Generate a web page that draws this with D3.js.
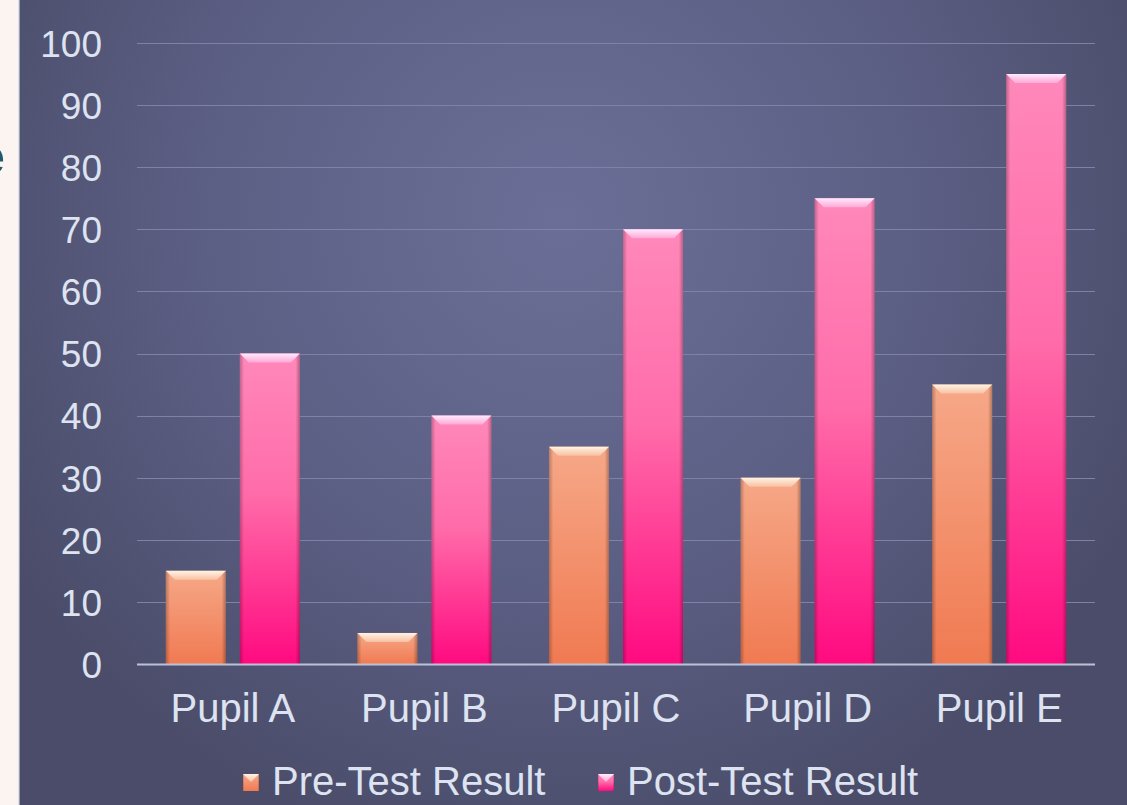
<!DOCTYPE html>
<html><head><meta charset="utf-8">
<script src="https://cdn.jsdelivr.net/npm/d3@7"></script>
<style>html,body{margin:0;padding:0;overflow:hidden;background:#fcf4f1}</style>
</head><body>
<script>
const pupils = ["Pupil A","Pupil B","Pupil C","Pupil D","Pupil E"];
const seriesNames = ["Pre-Test Result","Post-Test Result"];
const preTest = [15,5,35,30,45];
const postTest = [50,40,70,75,95];
const yTicks = [0,10,20,30,40,50,60,70,80,90,100];

const W=1127,H=805;
const svg=d3.select("body").append("svg").attr("width",W).attr("height",H);
const defs=svg.append("defs");

const bg=defs.append("radialGradient").attr("id","bg").attr("gradientUnits","userSpaceOnUse")
  .attr("cx",560).attr("cy",220).attr("r",650);
bg.append("stop").attr("offset","0").attr("stop-color","#6b6f97");
bg.append("stop").attr("offset","0.55").attr("stop-color","#5c5f84");
bg.append("stop").attr("offset","1").attr("stop-color","#4a4c69");

function vgrad(id,stops){const g=defs.append("linearGradient").attr("id",id).attr("x1",0).attr("y1",0).attr("x2",0).attr("y2",1);
  stops.forEach(s=>g.append("stop").attr("offset",s[0]).attr("stop-color",s[1]));}
function hgrad(id,stops){const g=defs.append("linearGradient").attr("id",id).attr("x1",0).attr("y1",0).attr("x2",1).attr("y2",0);
  stops.forEach(s=>g.append("stop").attr("offset",s[0]).attr("stop-color",s[1]).attr("stop-opacity",s[2]));}
vgrad("preFill",[[0,"#f6a888"],[1,"#f07a52"]]);
vgrad("postFill",[[0,"#ff88ba"],[0.45,"#ff6ca9"],[1,"#ff0a80"]]);
vgrad("preTop",[[0,"#fff4e4"],[1,"#f8c0a2"]]);
vgrad("postTop",[[0,"#ffeaff"],[1,"#ffa8d6"]]);
hgrad("edge",[[0,"#000",0.25],[0.07,"#000",0],[0.93,"#000",0],[1,"#000",0.28]]);

// left page strip
svg.append("rect").attr("x",0).attr("y",0).attr("width",19).attr("height",H).attr("fill","#fcf4f1");
svg.append("clipPath").attr("id","strip").append("rect").attr("x",0).attr("y",0).attr("width",18).attr("height",H);
svg.append("text").attr("clip-path","url(#strip)").attr("x",-24).attr("y",174)
  .attr("font-family","'Liberation Sans', Arial, sans-serif").attr("font-weight","bold").attr("font-size",52)
  .attr("fill","#1f5b6c").text("e");
svg.append("rect").attr("x",18).attr("y",0).attr("width",1.5).attr("height",H).attr("fill","#dde3ea");

// chart background
svg.append("rect").attr("x",19.5).attr("y",0).attr("width",W-19.5).attr("height",H).attr("fill","url(#bg)");

const font="'Liberation Sans', Arial, sans-serif";
const y=d3.scaleLinear().domain([0,100]).range([664,43]);
const x0=d3.scaleBand().domain(pupils).range([137,1095]).paddingInner(0).paddingOuter(0);
const x1=d3.scaleBand().domain(seriesNames).range([0,x0.bandwidth()]).paddingInner(14/74).paddingOuter(0.389);

// gridlines
svg.append("g").selectAll("line").data(yTicks.filter(d=>d>0)).join("line")
  .attr("x1",137).attr("x2",1095).attr("y1",d=>Math.round(y(d))+0.5).attr("y2",d=>Math.round(y(d))+0.5)
  .attr("stroke","#7e82a6").attr("stroke-width",1);

// y tick labels via axis
const yAxis=svg.append("g").attr("transform","translate(112,0)")
  .call(d3.axisLeft(y).tickValues(yTicks).tickSize(0).tickPadding(10));
yAxis.select(".domain").remove();
yAxis.selectAll("text").attr("font-family",font).attr("font-size",37).attr("fill","#dde3f0").attr("dy","0.36em");

// bars
const data=pupils.map((p,i)=>({p,vals:[{s:seriesNames[0],v:preTest[i]},{s:seriesNames[1],v:postTest[i]}]}));
const groups=svg.append("g").selectAll("g").data(data).join("g").attr("transform",d=>`translate(${x0(d.p)},0)`);
const bars=groups.selectAll("g").data(d=>d.vals).join("g");
const bw=x1.bandwidth();
bars.append("rect").attr("x",d=>x1(d.s)).attr("y",d=>y(d.v)).attr("width",bw).attr("height",d=>y(0)-y(d.v))
  .attr("fill",d=>d.s===seriesNames[0]?"url(#preFill)":"url(#postFill)");
bars.append("rect").attr("x",d=>x1(d.s)).attr("y",d=>y(d.v)).attr("width",bw).attr("height",d=>y(0)-y(d.v))
  .attr("fill","url(#edge)");
bars.append("path").attr("d",d=>{const xs=x1(d.s),yt=y(d.v),b=9;
    return `M${xs},${yt}L${xs+bw},${yt}L${xs+bw-b},${yt+b}L${xs+b},${yt+b}Z`;})
  .attr("fill",d=>d.s===seriesNames[0]?"url(#preTop)":"url(#postTop)");

// axis line
svg.append("line").attr("x1",137).attr("x2",1095).attr("y1",664.5).attr("y2",664.5).attr("stroke","#bcc2d6").attr("stroke-width",2);

// x labels
const xAxis=svg.append("g").attr("transform","translate(0,664)")
  .call(d3.axisBottom(x0).tickSize(0).tickPadding(30));
xAxis.select(".domain").remove();
xAxis.selectAll("text").attr("font-family",font).attr("font-size",40).attr("fill","#dde3f0");

// legend
const legend=[{s:seriesNames[0],mx:243,tx:272,fill:"url(#preFill)",top:"url(#preTop)"},
              {s:seriesNames[1],mx:598,tx:627,fill:"url(#postFill)",top:"url(#postTop)"}];
const lg=svg.append("g").selectAll("g").data(legend).join("g");
lg.append("rect").attr("x",d=>d.mx).attr("y",774).attr("width",16).attr("height",17).attr("fill",d=>d.fill);
lg.append("rect").attr("x",d=>d.mx).attr("y",774).attr("width",16).attr("height",17).attr("fill","url(#edge)");
lg.append("path").attr("d",d=>`M${d.mx},774L${d.mx+16},774L${d.mx+8},782Z`).attr("fill",d=>d.top);
lg.append("text").attr("x",d=>d.tx).attr("y",795).attr("font-family",font).attr("font-size",40)
  .attr("fill","#dde3f0").text(d=>d.s);
</script>
</body></html>
